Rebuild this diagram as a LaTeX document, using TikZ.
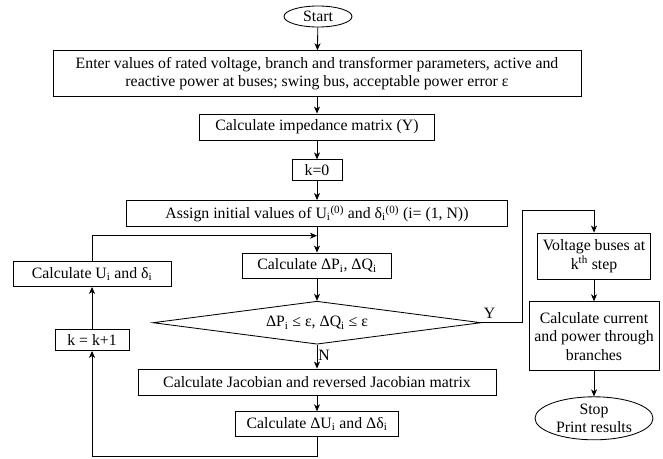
\documentclass[tikz,border=0pt]{standalone}
\usepackage{fontspec}
\setmainfont{Liberation Serif}
\usetikzlibrary{shapes.geometric,arrows.meta}

\newcommand{\sbi}{\textsubscript{i}}

\begin{document}
\begin{tikzpicture}[x=1pt,y=-1pt,
		font=\fontsize{15.8}{18.5}\selectfont,
		line width=0.85pt,
		box/.style={draw, rectangle, inner sep=2pt, align=center, minimum width=#1},
		terminal/.style={draw, ellipse, inner sep=0pt, align=center},
		decision/.style={draw, diamond, inner sep=0pt, aspect=7.6, minimum width=328pt, minimum height=43pt},
		arr/.style={-{Stealth[length=7pt,width=6pt,inset=2pt]}}]
		\useasboundingbox (0,0) rectangle (663,458);

		% main column
		\node[terminal, minimum width=68pt, minimum height=21pt] (start) at (318,16.5) {Start};
		\node[box=528pt, minimum height=46pt] (enter) at (317,73.7) {Enter values of rated voltage, branch and transformer parameters, active and\\reactive power at buses; swing bus, acceptable power error ε};
		\node[box=235pt, minimum height=26pt] (imped) at (317,127) {Calculate impedance matrix (Y)};
		\node[box=50pt, minimum height=21pt] (kzero) at (317,170.3) {k=0};
		\node[box=381pt, minimum height=26pt] (assign) at (317,213.5) {Assign initial values of U\sbi\textsuperscript{(0)} and δ\sbi\textsuperscript{(0)} (i= (1, N))};
		\node[box=149pt, minimum height=25pt] (calcdp) at (317,265.5) {Calculate ΔP\sbi, ΔQ\sbi};
		\node[decision] (cond) at (317,322.7) {ΔP\sbi{} ≤ ε, ΔQ\sbi{} ≤ ε};
		\node[box=358pt, minimum height=26pt] (jacob) at (317,382) {Calculate Jacobian and reversed Jacobian matrix};
		\node[box=163pt, minimum height=25pt] (calcdu) at (317,424.2) {Calculate ΔU\sbi{} and Δδ\sbi};

		% left loop
		\node[box=158pt, minimum height=25pt] (calcu) at (92,274) {Calculate U\sbi{} and δ\sbi};
		\node[box=74pt, minimum height=21pt] (kinc) at (92,340) {k = k+1};

		% right column
		\node[box=113pt, minimum height=46pt] (volt) at (594,256) {Voltage buses at\\k\textsuperscript{th} step};
		\node[box=130pt, minimum height=69pt] (curr) at (594,336.2) {Calculate current\\and power through\\branches};
		\node[terminal, minimum width=118pt, minimum height=43pt] (stop) at (594,418.3) {Stop\\Print results};

		\coordinate (loopin) at (317,235.7);
		\coordinate (botloop) at (317,456);
		\coordinate (ybend) at (522,210.7);

		\draw[arr] (start) -- (enter);
		\draw[arr] (enter) -- (imped);
		\draw[arr] (imped) -- (kzero);
		\draw[arr] (kzero) -- (assign);
		\draw[arr] (assign) -- (calcdp);
		\draw[arr] (calcu.north) |- (loopin);
		\draw[arr] (calcdp) -- (cond);
		\draw[arr] (cond) -- (jacob);
		\draw[arr] (jacob) -- (calcdu);
		\draw[arr] (calcdu) -- (botloop) -| (kinc.south);
		\draw[arr] (kinc) -- (calcu);
		\draw[arr] (cond.east) -| (ybend) -| (volt.north);
		\draw[arr] (volt) -- (curr);
		\draw[arr] (curr) -- (stop);

		\node (ylabel) at (489.5,313) {Y};
		\node (nlabel) at (324,355) {N};
	\end{tikzpicture}
\end{document}
